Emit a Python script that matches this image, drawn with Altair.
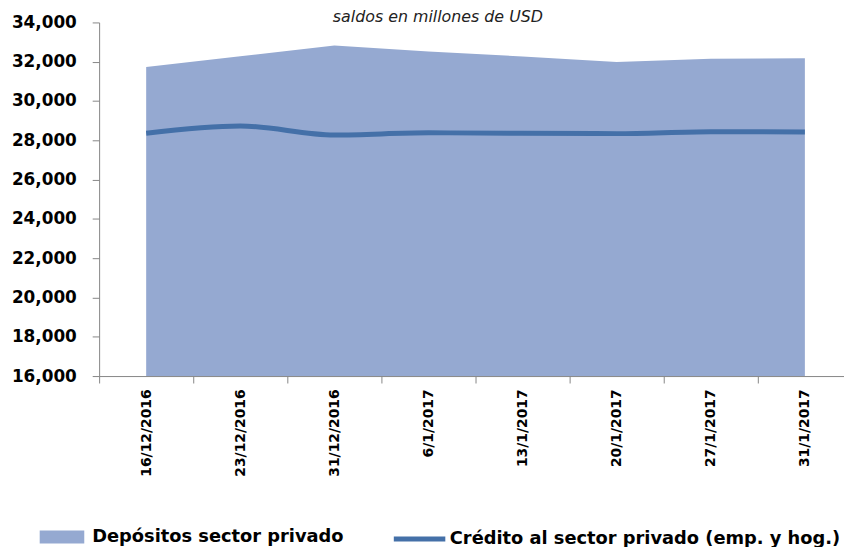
import altair as alt
import pandas as pd

fechas = ["16/12/2016", "23/12/2016", "31/12/2016", "6/1/2017",
          "13/1/2017", "20/1/2017", "27/1/2017", "31/1/2017"]
depositos = [31730, 32280, 32820, 32520, 32270, 31980, 32150, 32180]
credito = [28360, 28730, 28270, 28380, 28360, 28340, 28440, 28420]
y_ticks = [16000, 18000, 20000, 22000, 24000, 26000, 28000, 30000, 32000, 34000]

name_dep = "Depósitos sector privado"
name_cre = "Crédito al sector privado (emp. y hog.)"

df = pd.DataFrame({
    "fecha": fechas,
    "depositos": depositos,
    "credito": credito,
    "s_dep": [name_dep] * len(fechas),
    "s_cre": [name_cre] * len(fechas),
    "base": [16000] * len(fechas),
})

AREA_C = "#95A9D1"
LINE_C = "#4470A8"
AXIS_C = "#868686"
FONT = "DejaVu Sans"

x_axis = alt.Axis(labelAngle=-90, labelAlign="right", labelBaseline="middle",
                  labelFont=FONT, labelFontSize=14, labelFontWeight="bold",
                  labelColor="#000000", labelPadding=6, tickBand="extent",
                  tickSize=7, tickColor=AXIS_C, domainColor=AXIS_C,
                  grid=False, labelOverlap=False)
x_scale = alt.Scale(type="band", range=[0, 760], paddingInner=0, paddingOuter=0)
y_scale = alt.Scale(domain=[16000, 34000], nice=False, zero=False)
y_axis = alt.Axis(values=y_ticks, labelExpr="format(datum.value, ',')",
                  labelFont=FONT, labelFontSize=17, labelOverlap=False,
                  labelFontWeight="bold", labelColor="#000000", labelPadding=16,
                  tickSize=7, tickColor=AXIS_C, domainColor=AXIS_C, grid=False)

leg_common = dict(title=None, orient="none", labelFont=FONT, labelFontSize=18,
                  labelFontWeight="bold", labelColor="#000000", labelLimit=600,
                  padding=0)

area = alt.Chart(df).mark_area(opacity=1).encode(
    x=alt.X("fecha:N", sort=fechas, title=None, scale=x_scale, axis=x_axis),
    y=alt.Y("depositos:Q", scale=y_scale, axis=y_axis, title=None),
    y2="base:Q",
    fill=alt.Fill("s_dep:N", scale=alt.Scale(domain=[name_dep], range=[AREA_C]),
                  legend=alt.Legend(legendX=-60, legendY=497,
                                    symbolType="M-1,-0.29H1V0.29H-1Z", symbolSize=2025,
                                    symbolStrokeWidth=0, symbolOpacity=1,
                                    labelOffset=8, **leg_common)),
)

line = alt.Chart(df).mark_line(strokeWidth=5, interpolate="monotone").encode(
    x=alt.X("fecha:N", sort=fechas, title=None, scale=x_scale, axis=x_axis),
    y=alt.Y("credito:Q", scale=y_scale, axis=y_axis, title=None),
    stroke=alt.Stroke("s_cre:N", scale=alt.Scale(domain=[name_cre], range=[LINE_C]),
                      legend=alt.Legend(legendX=295, legendY=493,
                                        symbolType="stroke", symbolSize=2704,
                                        symbolStrokeWidth=5,
                                        labelOffset=2, **leg_common)),
)

chart = alt.layer(area, line).properties(
    width=752,
    height=357,
    title=alt.TitleParams("saldos en millones de USD", font=FONT, fontSize=16,
                          fontStyle="italic", fontWeight="normal", color="#222222",
                          anchor="middle", dx=-34, dy=16),
    autosize=alt.AutoSizeParams(type="none"),
    padding={"left": 92, "top": 12, "right": 0, "bottom": 170},
).configure_view(stroke=None)

chart.save("out.html", embed_options={"renderer": "svg", "actions": False})
